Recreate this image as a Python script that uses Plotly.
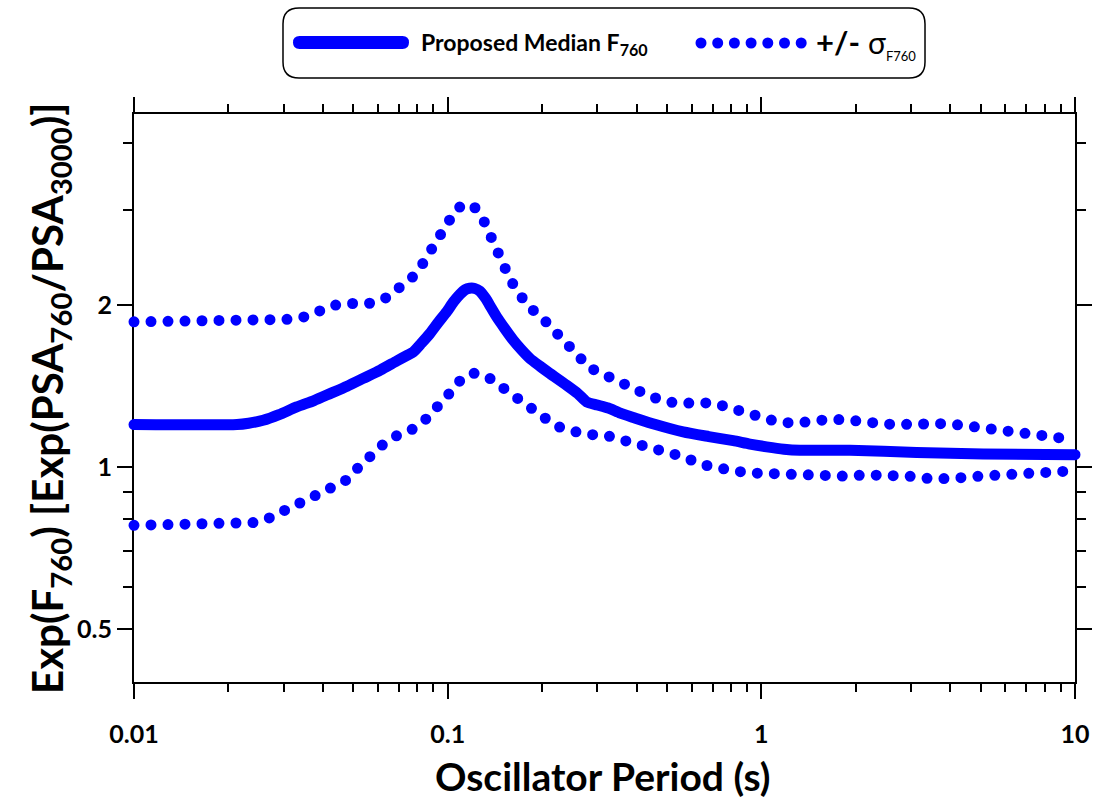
import math
import plotly.graph_objects as go

# ---------------- data ----------------
median_T = [0.01, 0.0213, 0.0232, 0.0258, 0.029, 0.033, 0.0375, 0.0422, 0.0478, 0.0538,
            0.061, 0.0688, 0.0745, 0.0777, 0.0825, 0.0878, 0.0935, 0.0993, 0.1045, 0.1094,
            0.1135, 0.1175, 0.122, 0.1265, 0.132, 0.1375, 0.1433, 0.152, 0.1618, 0.1715,
            0.1829, 0.197, 0.2119, 0.2395, 0.2600, 0.2775, 0.30, 0.325, 0.355, 0.3906,
            0.46, 0.5636, 0.68, 0.814, 0.92, 1.04, 1.18, 1.327, 1.916, 3.126, 5.1, 10.0]
median_V = [1.20, 1.20, 1.207, 1.222, 1.252, 1.294, 1.33, 1.37, 1.414, 1.462,
            1.515, 1.575, 1.615, 1.637, 1.70, 1.772, 1.86, 1.944, 2.03, 2.095,
            2.135, 2.15, 2.148, 2.125, 2.06, 1.98, 1.902, 1.81, 1.722, 1.655,
            1.592, 1.54, 1.493, 1.42, 1.37, 1.322, 1.305, 1.288, 1.26, 1.237,
            1.20, 1.163, 1.14, 1.12, 1.104, 1.091, 1.08, 1.075, 1.075, 1.065, 1.058, 1.055]

upper_T = [0.01, 0.0212, 0.024, 0.0272, 0.0307, 0.0348, 0.0391, 0.0438, 0.0495, 0.056,
           0.0631, 0.0696, 0.0768, 0.0828, 0.0889, 0.0945, 0.1007, 0.108, 0.1202, 0.1293,
           0.1358, 0.1423, 0.1498, 0.1584, 0.1692, 0.1829, 0.2009, 0.2198, 0.2395, 0.2597,
           0.282, 0.315, 0.3508, 0.3897, 0.4373, 0.4906, 0.553, 0.625, 0.7047, 0.794,
           0.896, 1.0, 1.125, 1.272, 1.437, 1.631, 1.838, 2.078, 2.354, 2.661,
           3.008, 3.393, 3.832, 4.34, 4.884, 5.52, 6.24, 7.04, 7.96, 8.95, 10.0]
upper_V = [1.862, 1.862, 1.870, 1.876, 1.882, 1.902, 1.950, 2.0, 2.014, 2.014,
           2.058, 2.142, 2.245, 2.376, 2.523, 2.687, 2.861, 3.038, 3.073, 2.90,
           2.718, 2.538, 2.376, 2.229, 2.096, 1.98, 1.889, 1.797, 1.705, 1.615,
           1.532, 1.487, 1.437, 1.388, 1.359, 1.326, 1.313, 1.318, 1.315, 1.289,
           1.265, 1.237, 1.214, 1.207, 1.219, 1.226, 1.226, 1.211, 1.207, 1.20,
           1.205, 1.211, 1.205, 1.197, 1.185, 1.175, 1.161, 1.15, 1.138, 1.134, 1.13]

lower_T = [0.01, 0.0212, 0.024, 0.027, 0.0302, 0.0337, 0.0376, 0.0423, 0.0471, 0.0514,
           0.056, 0.0616, 0.0682, 0.0766, 0.0846, 0.0925, 0.1, 0.108, 0.1198, 0.1337,
           0.148, 0.1635, 0.18, 0.1988, 0.2214, 0.249, 0.2806, 0.3157, 0.355, 0.4004,
           0.4503, 0.5074, 0.5694, 0.6386, 0.7166, 0.808, 0.913, 1.034, 1.17, 1.318,
           1.49, 1.684, 1.904, 2.15, 2.43, 2.75, 3.10, 3.51, 3.95, 4.46,
           5.05, 5.71, 6.45, 7.30, 8.24, 9.27, 10.0]
lower_V = [0.780, 0.780, 0.789, 0.805, 0.831, 0.862, 0.887, 0.909, 0.943, 0.993,
           1.047, 1.097, 1.142, 1.173, 1.223, 1.285, 1.359, 1.439, 1.497, 1.474,
           1.413, 1.349, 1.289, 1.235, 1.193, 1.168, 1.15, 1.148, 1.129, 1.102,
           1.081, 1.066, 1.044, 1.013, 0.994, 0.986, 0.976, 0.972, 0.972, 0.968,
           0.961, 0.955, 0.962, 0.968, 0.968, 0.968, 0.961, 0.950, 0.949, 0.957,
           0.963, 0.968, 0.970, 0.976, 0.982, 0.984, 0.985]

x_tickvals = [0.01, 0.1, 1, 10]
x_ticktext = ["0.01", "0.1", "1", "10"]
x_minor = [m * d for d in (0.01, 0.1, 1) for m in range(2, 10)]
y_tickvals = [0.5, 1, 2]
y_ticktext = ["0.5", "1", "2"]
y_minor = [0.6, 0.7, 0.8, 0.9, 3, 4]

# ---------------- layout geometry ----------------
W, H = 1095, 802
L, R, T, B = 134, 1075, 114, 682
PW, PH = R - L, B - T

def px(x):
    return (x - L) / PW

def py(y):
    return (B - y) / PH

BLUE = "#0000FF"
FONT = "Lato"

fig = go.Figure()
fig.add_trace(go.Scatter(x=upper_T, y=upper_V, mode="lines",
                         line=dict(color=BLUE, width=11, dash="dot"), showlegend=False))
fig.add_trace(go.Scatter(x=median_T, y=median_V, mode="lines",
                         line=dict(color=BLUE, width=11, shape="spline", smoothing=0.6),
                         showlegend=False))
fig.add_trace(go.Scatter(x=lower_T, y=lower_V, mode="lines",
                         line=dict(color=BLUE, width=11, dash="dot"), showlegend=False))

axis_common = dict(
    type="log", showgrid=False, zeroline=False, automargin=False,
    showline=True, linecolor="black", linewidth=2, mirror="allticks",
    ticks="outside", ticklen=15, tickwidth=2, tickcolor="black",
    tickfont=dict(family=FONT, size=25, color="black", weight="bold"),
    layer="below traces",
)

fig.update_layout(
    template="none",
    width=W, height=H, autosize=False,
    margin=dict(l=L, r=W - R, t=T, b=H - B, pad=0),
    paper_bgcolor="white", plot_bgcolor="white",
    showlegend=False,
    xaxis=dict(axis_common, range=[-2, 1], tickmode="array",
               tickvals=x_tickvals, ticktext=x_ticktext, ticklabelstandoff=14,
               minor=dict(tickmode="array", tickvals=x_minor, ticks="outside",
                          ticklen=8, tickwidth=2, tickcolor="black", showgrid=False)),
    yaxis=dict(axis_common, range=[math.log10(0.399), math.log10(4.53)], tickmode="array",
               tickvals=y_tickvals, ticktext=y_ticktext,
               minor=dict(tickmode="array", tickvals=y_minor, ticks="outside",
                          ticklen=9, tickwidth=2, tickcolor="black", showgrid=False)),
)

# axis titles
fig.add_annotation(xref="paper", yref="paper", x=px(602), y=py(776),
                   text="Oscillator Period (s)", showarrow=False,
                   xanchor="center", yanchor="middle",
                   font=dict(family=FONT, size=39, color="black", weight="bold"))
fig.add_annotation(xref="paper", yref="paper", x=px(50), y=py(398),
                   text="Exp(F<sub>760</sub>) [Exp(PSA<sub>760</sub>/PSA<sub>3000</sub>)]",
                   textangle=-90, showarrow=False,
                   xanchor="center", yanchor="middle",
                   font=dict(family=FONT, size=42, color="black", weight="bold"))

# ---------------- custom legend ----------------
def rounded_rect(x0, y0, x1, y1, r):
    pts = [
        ("M", (x0 + r, y0)), ("L", (x1 - r, y0)), ("Q", (x1, y0), (x1, y0 + r)),
        ("L", (x1, y1 - r)), ("Q", (x1, y1), (x1 - r, y1)),
        ("L", (x0 + r, y1)), ("Q", (x0, y1), (x0, y1 - r)),
        ("L", (x0, y0 + r)), ("Q", (x0, y0), (x0 + r, y0)),
    ]
    s = ""
    for item in pts:
        cmd = item[0]
        coords = " ".join(f"{px(a):.5f},{py(b):.5f}" for a, b in item[1:])
        s += f"{cmd} {coords} "
    return s + "Z"

fig.add_shape(type="path", xref="paper", yref="paper",
              path=rounded_rect(283, 8, 925, 78, 16),
              line=dict(color="black", width=1.5), fillcolor="white", layer="above")
# solid sample (stadium)
fig.add_shape(type="path", xref="paper", yref="paper",
              path=rounded_rect(293, 36, 409, 49, 6.5),
              line=dict(width=0), fillcolor=BLUE, layer="above")
# dotted sample
for k in range(7):
    cx, cy, r = 701 + 16.7 * k, 43, 5.5
    fig.add_shape(type="circle", xref="paper", yref="paper",
                  x0=px(cx - r), x1=px(cx + r), y0=py(cy + r), y1=py(cy - r),
                  line=dict(width=0), fillcolor=BLUE, layer="above")

fig.add_annotation(xref="paper", yref="paper", x=px(419), y=py(43),
                   text="Proposed Median F<sub>760</sub>", showarrow=False,
                   xanchor="left", yanchor="middle",
                   font=dict(family=FONT, size=23, color="black", weight="bold"))
fig.add_annotation(xref="paper", yref="paper", x=px(814), y=py(43),
                   text="<b>+/-</b> <span style='font-size:30px'>σ</span><sub><span style='font-size:13px'>F760</span></sub>",
                   showarrow=False, xanchor="left", yanchor="middle",
                   font=dict(family=FONT, size=31, color="black"))

post = """
var gd = document.getElementById('{plot_id}');
function fix(){
  var traces = gd.querySelectorAll('.scatterlayer .trace');
  traces.forEach(function(t, i){
    t.querySelectorAll('path.js-line').forEach(function(p){
      p.style.strokeLinecap = 'round';
      p.style.strokeLinejoin = 'round';
      if (i !== 1) { p.style.strokeDasharray = '0 17'; }
    });
  });
  gd.querySelectorAll('.cartesianlayer [clip-path]').forEach(function(g){ g.removeAttribute('clip-path'); });
}
fix();
"""

fig.write_html("out.html", post_script=post)
